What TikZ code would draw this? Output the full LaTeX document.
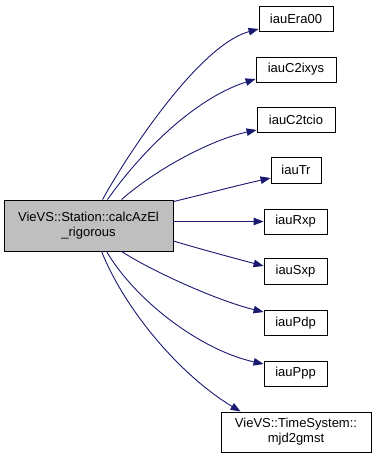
\documentclass[tikz,border=0pt]{standalone}
\usepackage{fontspec}
\setmainfont{Liberation Sans}
\usetikzlibrary{arrows.meta}
\definecolor{edgeblue}{HTML}{191970}
\definecolor{mainfill}{HTML}{BFBFBF}
\begin{document}
\begin{tikzpicture}[x=1pt,y=-1pt,
  fn/.style={draw=black,line width=0.9pt,inner sep=0pt,align=center,
    font=\fontsize{13}{15}\selectfont},
  call/.style={draw=edgeblue,line width=0.9pt,
    -{Triangle[length=10pt,width=7.5pt,fill=edgeblue]}}]
\useasboundingbox (0,0) rectangle (376,457);

% caller
\node[fn,fill=mainfill,minimum width=169pt,minimum height=51pt] (main) at (88.5,225.5)
  {VieVS::Station::calcAzEl\\\_rigorous};

% callees
\node[fn,minimum width=74pt,minimum height=25pt] (era)  at (296,18.5)  {iauEra00};
\node[fn,minimum width=80pt,minimum height=25pt] (c2i)  at (296,69.5)  {iauC2ixys};
\node[fn,minimum width=78pt,minimum height=25pt] (c2t)  at (296,119.5) {iauC2tcio};
\node[fn,minimum width=50pt,minimum height=26pt] (tr)   at (296,170)   {iauTr};
\node[fn,minimum width=63pt,minimum height=25pt] (rxp)  at (295.5,221.5) {iauRxp};
\node[fn,minimum width=63pt,minimum height=26pt] (sxp)  at (295.5,271) {iauSxp};
\node[fn,minimum width=63pt,minimum height=25pt] (pdp)  at (295.5,323) {iauPdp};
\node[fn,minimum width=63pt,minimum height=25pt] (ppp)  at (295.5,373.5) {iauPpp};
\node[fn,minimum width=150pt,minimum height=40pt] (gmst) at (296,432)
  {VieVS::TimeSystem::\\mjd2gmst};

% call edges
\draw[call] ([xshift=99pt]main.north west) .. controls (130,150) and (200,45) .. ([yshift=-10.5pt]era.west);
\draw[call] ([xshift=104pt]main.north west) .. controls (135,160) and (190,100) .. ([yshift=-9.5pt]c2i.west);
\draw[call] ([xshift=118pt]main.north west) .. controls (155,170) and (210,140) .. ([yshift=-10.5pt]c2t.west);
\draw[call] ([yshift=-2pt]main.north east) .. controls (205,194) and (235,186) .. ([yshift=-8pt]tr.west);
\draw[call] (main.east |- rxp.west) -- (rxp.west);
\draw[call] ([yshift=-15.5pt]main.east) .. controls (200,249) and (230,257) .. ([yshift=5pt]sxp.west);
\draw[call] ([xshift=118pt]main.south west) .. controls (150,270) and (215,300) .. ([yshift=11pt]pdp.west);
\draw[call] ([xshift=103pt]main.south west) .. controls (135,300) and (200,350) .. ([yshift=9.5pt]ppp.west);
\draw[call] ([xshift=98pt]main.south west) .. controls (125,310) and (180,375) .. ([xshift=20pt]gmst.north west);
\end{tikzpicture}
\end{document}
